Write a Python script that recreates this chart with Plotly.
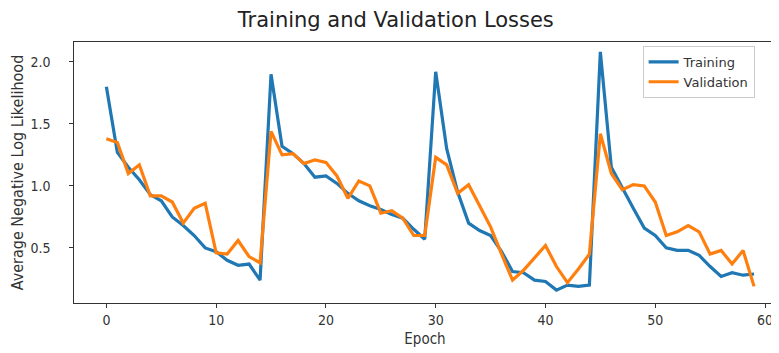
import plotly.graph_objects as go

epochs = list(range(60))
training = [1.80, 1.27, 1.15, 1.05, 0.93, 0.88, 0.75, 0.68, 0.60, 0.50,
            0.47, 0.40, 0.36, 0.37, 0.24, 1.90, 1.32, 1.26, 1.18, 1.07,
            1.08, 1.02, 0.94, 0.88, 0.84, 0.81, 0.77, 0.74, 0.65, 0.57,
            1.92, 1.30, 0.95, 0.70, 0.64, 0.60, 0.47, 0.31, 0.30, 0.24,
            0.23, 0.16, 0.20, 0.19, 0.20, 2.08, 1.15, 0.98, 0.82, 0.66,
            0.60, 0.50, 0.48, 0.48, 0.44, 0.35, 0.27, 0.30, 0.28, 0.29]
validation = [1.38, 1.35, 1.10, 1.17, 0.92, 0.92, 0.87, 0.70, 0.82, 0.86,
              0.46, 0.45, 0.56, 0.43, 0.38, 1.44, 1.25, 1.26, 1.18, 1.21,
              1.19, 1.08, 0.90, 1.04, 1.00, 0.78, 0.80, 0.74, 0.60, 0.60,
              1.23, 1.17, 0.94, 1.01, 0.84, 0.67, 0.45, 0.24, 0.32, 0.42,
              0.52, 0.35, 0.22, 0.33, 0.45, 1.42, 1.10, 0.97, 1.01, 1.00,
              0.87, 0.60, 0.63, 0.68, 0.63, 0.45, 0.48, 0.37, 0.48, 0.19]
x_ticks = [0, 10, 20, 30, 40, 50, 60]
y_ticks = [0.5, 1.0, 1.5, 2.0]
y_tick_labels = ["0.5", "1.0", "1.5", "2.0"]

narrow = "Liberation Sans Narrow, Arial Narrow, DejaVu Sans Condensed, sans-serif"
pad = "\u2003\u2005"  # extra gap between y tick labels and axis

fig = go.Figure()
fig.add_trace(go.Scatter(x=epochs, y=training, mode="lines", name="Training",
                         line=dict(color="#1f77b4", width=3.2)))
fig.add_trace(go.Scatter(x=epochs, y=validation, mode="lines", name="Validation",
                         line=dict(color="#ff7f0e", width=3.2)))

axis_common = dict(showgrid=False, zeroline=False, showline=True, linecolor="#333",
                   linewidth=1, mirror=True, ticks="outside", ticklen=4,
                   tickcolor="#333", automargin=False,
                   tickfont=dict(size=14, color="#333", family=narrow))
fig.update_layout(
    width=771, height=345,
    margin=dict(l=66, r=3, t=34, b=50),
    paper_bgcolor="white", plot_bgcolor="white",
    font=dict(family="DejaVu Sans", color="#333"),
    title=dict(text="Training and Validation Losses", x=0.503, xanchor="center",
               y=0.965, yanchor="middle", automargin=False,
               font=dict(size=21, color="#222", family="DejaVu Sans")),
    xaxis=dict(range=[-2.95, 61.0], tickvals=x_ticks,
               title=dict(text="Epoch", font=dict(size=15, family=narrow), standoff=6),
               **axis_common),
    yaxis=dict(range=[0.056, 2.16], tickvals=y_ticks,
               ticktext=[t + pad for t in y_tick_labels],
               title=dict(text="Average Negative Log Likelihood",
                          font=dict(size=16, family=narrow), standoff=2),
               **axis_common),
    legend=dict(x=0.81, y=0.985, xanchor="left", yanchor="top",
                bgcolor="rgba(255,255,255,0.85)", bordercolor="#ccc", borderwidth=1,
                font=dict(size=13, color="#333", family="DejaVu Sans")),
    showlegend=True,
)
fig.write_html("out.html")
